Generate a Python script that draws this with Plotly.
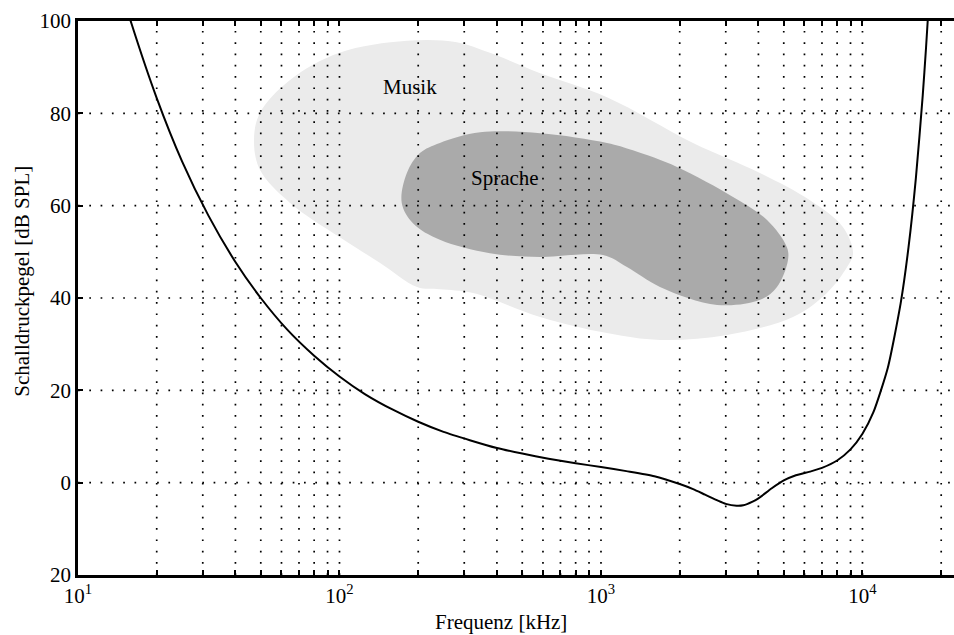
import math
import plotly.graph_objects as go

# Hearing threshold curve, frequency in Hz, level in dB SPL
thr_f = [15, 16, 20, 25, 31.5, 40, 50, 63, 80, 100, 125, 160, 200, 250, 315, 400, 500, 630,
         800, 1000, 1250, 1600, 2000, 2250, 2500, 2800, 3000, 3300, 3500, 3800, 4000, 4500,
         5000, 5500, 6300, 7000, 8000, 9000, 10000, 11000, 12500, 14000, 15000, 16000, 17000,
         17500, 18000]
thr_db = [104.8, 99.5, 83.3, 69.6, 57.9, 47.8, 40.0, 33.2, 27.5, 23.0, 19.2, 15.8, 13.2, 11.0,
          9.2, 7.5, 6.3, 5.2, 4.2, 3.4, 2.5, 1.4, -0.3, -1.4, -2.6, -3.9, -4.6, -5.0, -4.9, -4.1,
          -3.4, -1.2, 0.5, 1.5, 2.4, 3.2, 4.8, 7.2, 10.6, 15.2, 24.9, 38.9, 51.0, 65.9, 83.9,
          94.2, 105.3]

# "Musik" region outline
musik_f = [47.1, 49.7, 64.7, 100, 181, 281, 376, 585, 1054, 2249, 4055, 6297, 8414, 9203,
           8730, 7314, 5423, 3033, 1681, 1054, 585, 324, 242, 198, 143, 100, 64.7, 49.7]
musik_db = [74.2, 80.1, 87.2, 93.1, 95.7, 95.4, 93.1, 88.7, 83.5, 73.6, 67.1, 61.2, 55.4, 49.7,
            46.7, 41.1, 35.9, 32.0, 30.9, 32.4, 35.9, 41.1, 41.9, 42.4, 47.6, 53.2, 60.6, 67.7]

# "Sprache" region outline
sprache_f = [173, 181, 203, 242, 345, 585, 1054, 1325, 1954, 3199, 4315, 5140, 5188, 4710,
             4055, 2780, 1681, 1257, 1018, 585, 376, 242, 191]
sprache_db = [60.6, 67.1, 71.4, 73.6, 75.9, 75.7, 73.6, 72.0, 68.4, 61.9, 56.9, 51.0, 48.2,
              42.4, 39.6, 38.5, 42.4, 46.7, 49.3, 48.9, 49.7, 52.6, 56.2]

labels = ["Musik", "Sprache"]
label_f = [186, 429]
label_db = [85.7, 66.0]

x_decades = [10, 100, 1000, 10000]
x_decade_text = ["10<sup>1</sup>", "10<sup>2</sup>", "10<sup>3</sup>", "10<sup>4</sup>"]
x_grid = [m * d for d in [10, 100, 1000] for m in range(2, 11)] + [20000]
y_ticks = [-20, 0, 20, 40, 60, 80, 100]
y_tick_text = ["20", "0", "20", "40", "60", "80", "100"]

x_min, x_max = 10, 22387
FONT = "Liberation Serif"
FS = 21

fig = go.Figure()
fig.add_trace(go.Scatter(x=musik_f + musik_f[:1], y=musik_db + musik_db[:1], mode="lines",
                         line=dict(shape="spline", smoothing=1.0, width=0, color="#ebebeb"),
                         fill="toself", fillcolor="#ebebeb", hoverinfo="skip"))
fig.add_trace(go.Scatter(x=sprache_f + sprache_f[:1], y=sprache_db + sprache_db[:1], mode="lines",
                         line=dict(shape="spline", smoothing=1.0, width=0, color="#aaaaaa"),
                         fill="toself", fillcolor="#aaaaaa", hoverinfo="skip"))

# dotted grid drawn above the filled regions
gx, gy = [], []
for xv in x_grid:
    gx += [xv, xv, None]
    gy += [y_ticks[0], y_ticks[-1], None]
for yv in y_ticks[1:-1]:
    gx += [x_min, x_max, None]
    gy += [yv, yv, None]
fig.add_trace(go.Scatter(x=gx, y=gy, mode="lines",
                         line=dict(color="black", width=1.7, dash="1.7px,9.6px"),
                         hoverinfo="skip"))

fig.add_trace(go.Scatter(x=thr_f, y=thr_db, mode="lines",
                         line=dict(color="black", width=2, shape="spline", smoothing=0.6),
                         hoverinfo="skip"))

# annotations on a log axis take log10 positions
for t, xf, yd in zip(labels, label_f, label_db):
    fig.add_annotation(x=math.log10(xf), y=yd, xref="x", yref="y", text=t, showarrow=False,
                       font=dict(family=FONT, size=FS, color="black"))

fig.add_annotation(x=0.483, y=-0.085, xref="paper", yref="paper", text="Frequenz [kHz]",
                   showarrow=False, yanchor="middle", xanchor="center",
                   font=dict(family=FONT, size=FS, color="black"))
fig.add_annotation(x=-0.064, y=0.531, xref="paper", yref="paper",
                   text="Schalldruckpegel [dB SPL]", textangle=-90, showarrow=False,
                   xanchor="center", yanchor="middle",
                   font=dict(family=FONT, size=FS, color="black"))

fig.update_xaxes(type="log", range=[math.log10(x_min), math.log10(x_max)],
                 tickvals=x_decades + x_grid,
                 ticktext=x_decade_text + [""] * len(x_grid),
                 ticks="inside", ticklen=5, tickwidth=1.5, tickcolor="black",
                 showgrid=False, zeroline=False,
                 showline=True, linecolor="black", linewidth=2.5, mirror="ticks",
                 tickfont=dict(family=FONT, size=FS, color="black"))
fig.update_yaxes(range=[y_ticks[0], y_ticks[-1]], tickvals=y_ticks, ticktext=y_tick_text,
                 ticks="inside", ticklen=5, tickwidth=1.5, tickcolor="black",
                 showgrid=False, zeroline=False,
                 showline=True, linecolor="black", linewidth=2.5,
                 tickfont=dict(family=FONT, size=FS, color="black"))

fig.update_layout(width=954, height=635, margin=dict(l=78, r=0, t=21, b=60),
                  plot_bgcolor="white", paper_bgcolor="white", showlegend=False,
                  font=dict(family=FONT, color="black"))

fig.write_html("out.html", config={"displayModeBar": False},
               post_script="document.body.style.margin='0';document.body.style.overflow='hidden';")
